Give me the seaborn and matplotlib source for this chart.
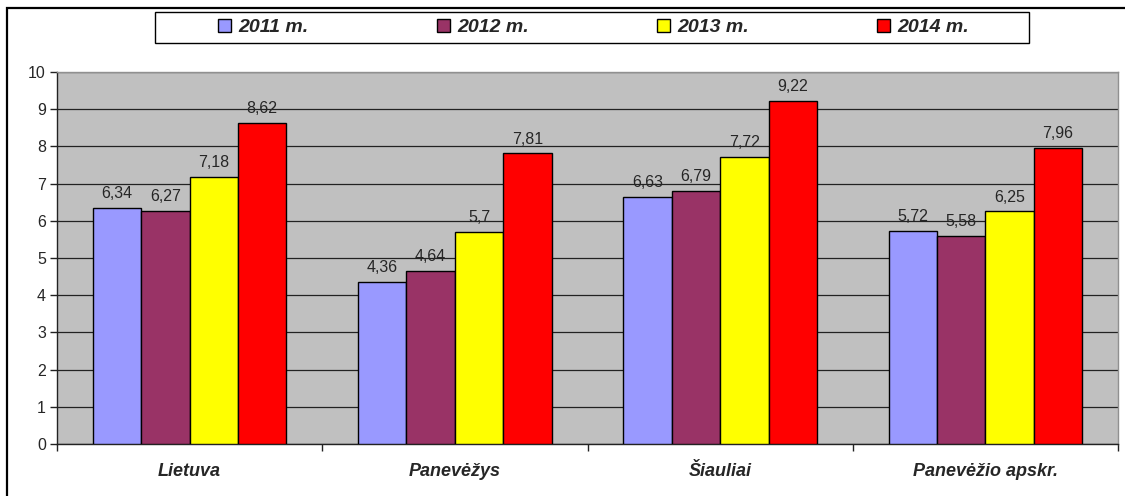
import matplotlib
matplotlib.use("Agg")
import matplotlib.pyplot as plt
import matplotlib.patches as mpatches
import pandas as pd
import seaborn as sns

# ── Data ─────────────────────────────────────────────
regions = ["Lietuva", "Panevėžys", "Šiauliai", "Panevėžio apskr."]
years = ["2011 m.", "2012 m.", "2013 m.", "2014 m."]
v2011 = [6.34, 4.36, 6.63, 5.72]
v2012 = [6.27, 4.64, 6.79, 5.58]
v2013 = [7.18, 5.70, 7.72, 6.25]
v2014 = [8.62, 7.81, 9.22, 7.96]
colors = ["#9999FF", "#993366", "#FFFF00", "#FF0000"]

rows = []
for yr, vals in zip(years, [v2011, v2012, v2013, v2014]):
    for reg, v in zip(regions, vals):
        rows.append({"Region": reg, "Year": yr, "Value": v})
df = pd.DataFrame(rows)

sns.set_style("white")
plt.rcParams["font.family"] = ["Liberation Sans", "DejaVu Sans"]

fig = plt.figure(figsize=(11.25, 4.96), dpi=100)
ax = fig.add_axes([57 / 1125, 1 - 444 / 496, (1118 - 57) / 1125, (444 - 72) / 496])
ax.set_facecolor("#C0C0C0")

sns.barplot(data=df, x="Region", y="Value", hue="Year", order=regions,
            hue_order=years, palette=colors, width=0.73, gap=0,
            edgecolor="black", linewidth=1, saturation=1, ax=ax, zorder=3)

ax.set_ylim(0, 10)
ax.set_xlim(-0.5, 3.5)
ax.set_yticks(range(0, 11))
ax.yaxis.grid(True, color="#222222", linewidth=0.9, zorder=0)
ax.set_axisbelow(True)
ax.set_xlabel("")
ax.set_ylabel("")

for side in ["top", "right"]:
    ax.spines[side].set_color("#909090")
    ax.spines[side].set_linewidth(1)
for side in ["left", "bottom"]:
    ax.spines[side].set_color("#222222")
    ax.spines[side].set_linewidth(1)

ax.tick_params(axis="y", length=5, width=1, color="#222222", labelsize=11.5, direction="out", left=True, pad=3)
ax.tick_params(axis="x", which="major", length=0, labelsize=13, pad=14)
ax.set_xticks([-0.5, 0.5, 1.5, 2.5, 3.5], minor=True)
ax.tick_params(axis="x", which="minor", length=5, width=1, color="#222222", bottom=True, direction="out")
for lbl in ax.get_xticklabels():
    lbl.set_fontweight("bold")
    lbl.set_fontstyle("italic")

for cont in ax.containers:
    ax.bar_label(cont, labels=[f"{v:g}".replace(".", ",") for v in cont.datavalues],
                 padding=5, fontsize=11.5)

ax.get_legend().remove()

# legend frame drawn separately so the entries can sit centred inside it
fig.patches.append(mpatches.Rectangle((155 / 1125, 1 - 43 / 496), (1029 - 155) / 1125, 31 / 496,
                                      transform=fig.transFigure, fill=True, facecolor="white",
                                      edgecolor="black", linewidth=1))
handles = [mpatches.Patch(facecolor=c, edgecolor="black", linewidth=1) for c in colors]
leg = fig.legend(handles, years, loc="center", ncol=4,
                 bbox_to_anchor=(593.5 / 1125, 1 - 27.5 / 496),
                 frameon=False, handlelength=0.68, handleheight=0.68,
                 handletextpad=0.36, columnspacing=6.6, borderaxespad=0,
                 prop={"weight": "bold", "style": "italic", "size": 14})

# outer chart frame
fig.patches.append(mpatches.Rectangle((7 / 1125, -0.1), 1.2, (496 - 8) / 496 + 0.1,
                                      transform=fig.transFigure, fill=False,
                                      edgecolor="black", linewidth=1.6))

fig.savefig("out.png", dpi=100)
